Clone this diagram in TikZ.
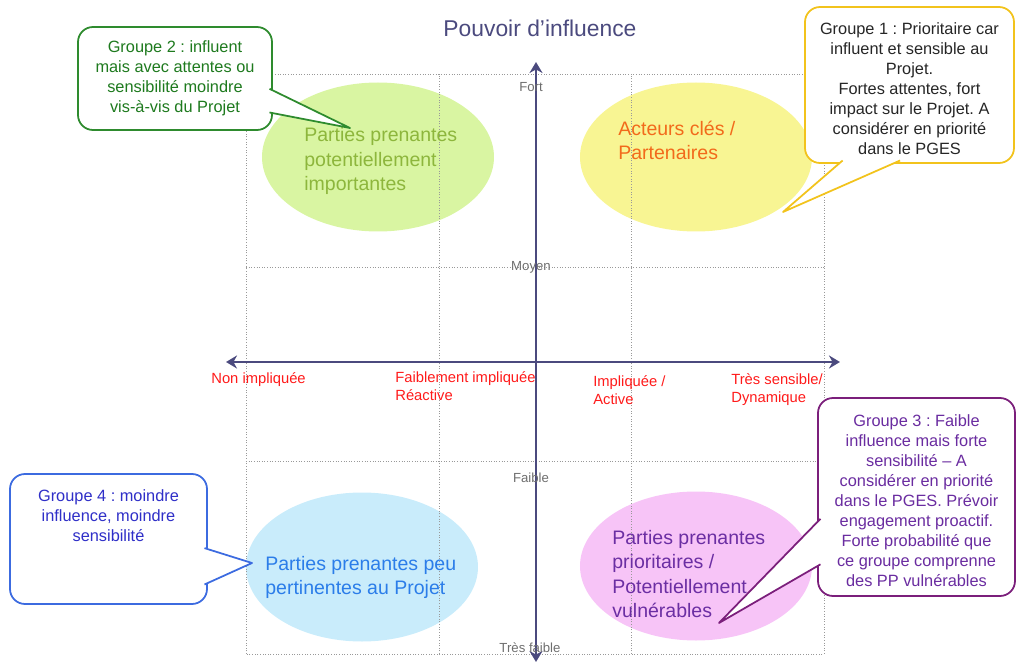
\documentclass[tikz,border=0pt]{standalone}
\usepackage{fontspec}
\setmainfont{Liberation Sans}
\usepackage{xcolor}
\usepackage{tikz}
\usetikzlibrary{shapes.geometric,positioning,calc,arrows.meta}
\frenchspacing

\definecolor{axisblue}{HTML}{4B4A7E}
\definecolor{lvlgray}{HTML}{6E6E6E}
\definecolor{labred}{HTML}{FF1A1A}
\definecolor{limefill}{HTML}{D9F5A2}
\definecolor{limetext}{HTML}{8DB63C}
\definecolor{yelfill}{HTML}{F8F593}
\definecolor{orangetext}{HTML}{F26A1B}
\definecolor{skyfill}{HTML}{C9ECFB}
\definecolor{skytext}{HTML}{2B7DE9}
\definecolor{pinkfill}{HTML}{F7C4F7}
\definecolor{plumtext}{HTML}{6B2EA3}
\definecolor{g1line}{HTML}{F2C31C}
\definecolor{g2line}{HTML}{2E8B2E}
\definecolor{g2text}{HTML}{1E7A1E}
\definecolor{g3line}{HTML}{7B1F7B}
\definecolor{g3text}{HTML}{6A2CA0}
\definecolor{g4line}{HTML}{3C6BE0}
\definecolor{g4text}{HTML}{2F2FC8}

\begin{document}
\begin{tikzpicture}[
    gridline/.style={densely dotted, gray!80, line width=0.5pt},
    axis/.style={<->, >={Stealth[length=2.2mm,width=2.6mm]}, axisblue, line width=1.2pt},
    level/.style={lvlgray, font=\fontsize{7.5}{9}\selectfont, inner sep=0},
    degree/.style={anchor=west, align=left, labred, font=\fontsize{8.4}{10.3}\selectfont, inner sep=0},
    zone/.style={ellipse, minimum width=4.64cm, minimum height=2.98cm, inner sep=0},
    zonetext/.style={anchor=west, align=left, inner sep=0, font=\fontsize{11.1}{13.7}\selectfont},
    callout/.style={rectangle, rounded corners=0.3cm, draw, fill=white, line width=1pt, outer sep=0, align=center, font=\fontsize{9.3}{11.4}\selectfont},
    callouttext/.style={align=center, inner sep=0, font=\fontsize{9.3}{11.4}\selectfont},
    tail/.style={line width=1pt, line join=round, fill=white}
]
    \useasboundingbox (-10.72,-6.06) rectangle (9.62,7.24);

    % Zones
    \node[zone, fill=limefill] (zpot) at (-3.16,4.1) {};
    \node[zone, fill=yelfill] (zkey) at (3.2,4.1) {};
    \node[zone, fill=skyfill] (zlow) at (-3.48,-4.1) {};
    \node[zone, fill=pinkfill] (zvul) at (3.2,-4.08) {};

    % Grid
    \draw[gridline] (-5.8,-5.84) rectangle (5.76,5.76);
    \draw[gridline] (-1.94,-5.84) -- (-1.94,5.76);
    \draw[gridline] (1.9,-5.84) -- (1.9,5.76);
    \draw[gridline] (-5.8,1.9) -- (5.76,1.9);
    \draw[gridline] (-5.8,-1.98) -- (5.76,-1.98);

    % Axes
    \coordinate (ytop) at (0,6.0);
    \coordinate (ybot) at (0,-6.0);
    \coordinate (xleft) at (-6.2,0);
    \coordinate (xright) at (6.08,0);
    \draw[axis] (ybot) -- (ytop);
    \draw[axis] (xleft) -- (xright);
    \node[axisblue, font=\fontsize{13}{15}\selectfont] (title) at (0.08,6.68) {Pouvoir d’influence};

    % Levels
    \node[level] (fort) at (-0.1,5.5) {Fort};
    \node[level] (moyen) at (-0.1,1.9) {Moyen};
    \node[level] (faible) at (-0.1,-2.32) {Faible};
    \node[level] (tfaible) at (-0.12,-5.72) {Très faible};

    % Sensibility
    \node[degree] (nonimp) at (-6.5,-0.36) {Non impliquée};
    \node[degree] (faibimp) at (-2.82,-0.48) {Faiblement impliquée\\Réactive};
    \node[degree] (imp) at (1.14,-0.56) {Impliquée /\\Active};
    \node[degree] (tsens) at (3.9,-0.56) {Très sensible/\\Dynamique};

    % Zone texts
    \node[zonetext, limetext] (tpot) at (-4.64,4.02) {Parties prenantes\\potentiellement\\importantes};
    \node[zonetext, orangetext] (tkey) at (1.64,4.44) {Acteurs clés /\\Partenaires};
    \node[zonetext, skytext] (tlow) at (-5.42,-4.3) {Parties prenantes peu\\pertinentes au Projet};
    \node[zonetext, plumtext] (tvul) at (1.52,-4.24) {Parties prenantes\\prioritaires /\\Potentiellement\\vulnérables};

    % Groupe 1
    \node[callout, draw=g1line, minimum width=4.18cm, minimum height=3.12cm] (grp1) at (7.47,5.54) {};
    \node[callouttext, text=black!85] (grp1txt) at ([yshift=-0.08cm]grp1.center) {Groupe 1 : Prioritaire car\\influent et sensible au\\Projet.\\Fortes attentes, fort\\impact sur le Projet. A\\considérer en priorité\\dans le PGES};
    \coordinate (tip1) at (4.94,3.0);
    \draw[tail, draw=g1line] ($(grp1.south west)!0.18!(grp1.south east)+(0,0.05)$) -- (tip1) -- ($(grp1.south west)!0.455!(grp1.south east)+(0,0.05)$);

    % Groupe 2
    \node[callout, draw=g2line, text=g2text, minimum width=3.88cm, minimum height=2.06cm] (grp2) at (-7.22,5.67) {Groupe 2 : influent\\mais avec attentes ou\\sensibilité moindre\\vis-à-vis du Projet};
    \coordinate (tip2) at (-3.72,4.68);
    \draw[tail, draw=g2line] ($(grp2.north east)!0.6!(grp2.south east)+(-0.05,0)$) -- (tip2) -- ($(grp2.north east)!0.83!(grp2.south east)+(-0.05,0)$);

    % Groupe 3
    \node[callout, draw=g3line, minimum width=3.94cm, minimum height=3.96cm] (grp3) at (7.61,-2.7) {};
    \node[callouttext, text=g3text] (grp3txt) at ([yshift=-0.08cm]grp3.center) {Groupe 3 : Faible\\influence mais forte\\sensibilité – A\\considérer en priorité\\dans le PGES. Prévoir\\engagement proactif.\\Forte probabilité que\\ce groupe comprenne\\des PP vulnérables};
    \coordinate (tip3) at (3.66,-5.22);
    \draw[tail, draw=g3line] ($(grp3.north west)!0.61!(grp3.south west)+(0.05,0)$) -- (tip3) -- ($(grp3.north west)!0.84!(grp3.south west)+(0.05,0)$);

    % Groupe 4
    \node[callout, draw=g4line, minimum width=3.94cm, minimum height=2.6cm] (grp4) at (-8.55,-3.54) {};
    \node[callouttext, text=g4text, below=0.3cm of grp4.north] (grp4txt) {Groupe 4 : moindre\\influence, moindre\\sensibilité};
    \coordinate (tip4) at (-5.68,-4.02);
    \draw[tail, draw=g4line] ($(grp4.north east)!0.57!(grp4.south east)+(-0.05,0)$) -- (tip4) -- ($(grp4.north east)!0.85!(grp4.south east)+(-0.05,0)$);
\end{tikzpicture}
\end{document}
